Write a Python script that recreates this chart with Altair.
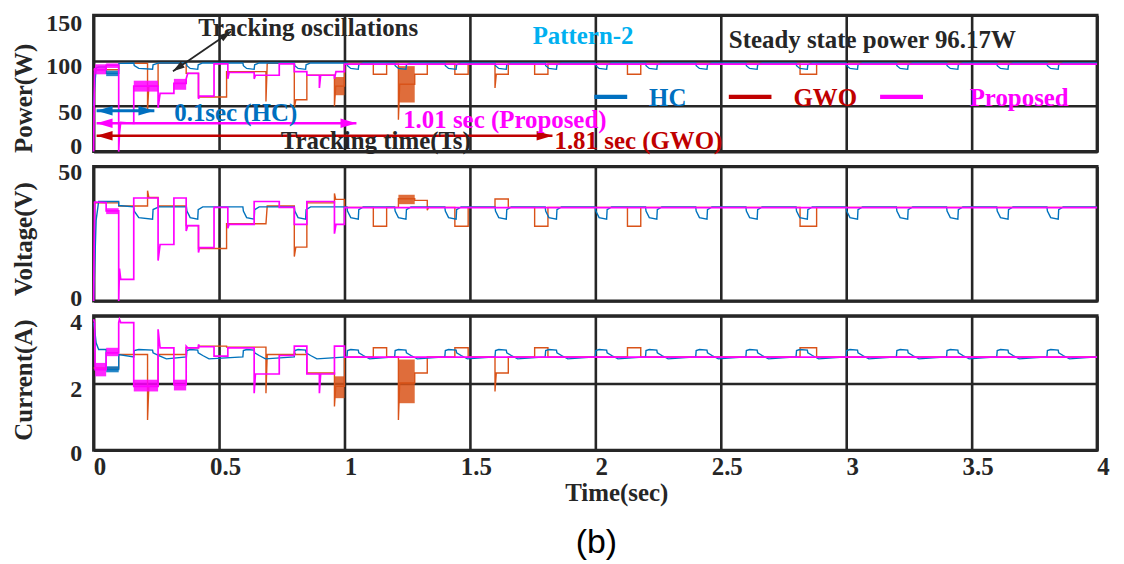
import altair as alt
import pandas as pd

# ---------------- data ----------------
HC_T = [0.000, 0.004, 0.010, 0.020, 0.050, 0.050, 0.100, 0.100,
        0.160, 0.162, 0.180, 0.235, 0.237, 0.260, 0.290,
        0.370, 0.372, 0.385, 0.415, 0.417, 0.435, 0.460,
        0.595, 0.597, 0.610, 0.640, 0.642, 0.660, 0.685,
        0.800, 0.802, 0.815, 0.845, 0.847, 0.865, 0.890,
        1.010, 1.012, 1.025, 1.055, 1.057, 1.075, 1.100,
        1.200, 1.202, 1.215, 1.245, 1.247, 1.265, 1.290,
        1.400, 1.402, 1.415, 1.445, 1.447, 1.465, 1.490,
        1.600, 1.602, 1.615, 1.645, 1.647, 1.665, 1.690,
        1.800, 1.802, 1.815, 1.845, 1.847, 1.865, 1.890,
        2.000, 2.002, 2.015, 2.045, 2.047, 2.065, 2.090,
        2.200, 2.202, 2.215, 2.245, 2.247, 2.265, 2.290,
        2.400, 2.402, 2.415, 2.445, 2.447, 2.465, 2.490,
        2.600, 2.602, 2.615, 2.645, 2.647, 2.665, 2.690,
        2.800, 2.802, 2.815, 2.845, 2.847, 2.865, 2.890,
        3.000, 3.002, 3.015, 3.045, 3.047, 3.065, 3.090,
        3.200, 3.202, 3.215, 3.245, 3.247, 3.265, 3.290,
        3.400, 3.402, 3.415, 3.445, 3.447, 3.465, 3.490,
        3.600, 3.602, 3.615, 3.645, 3.647, 3.665, 3.690,
        3.800, 3.802, 3.815, 3.845, 3.847, 3.865, 3.890,
        4.000]
HC_P = [50.0, 70.0, 92.0, 93.0, 93.0, 86.0, 86.0, 97.0,
        97.5, 94.5, 91.5, 90.5, 95.5, 97.5, 97.5,
        97.5, 94.5, 91.5, 90.5, 95.5, 97.5, 97.5,
        97.5, 94.5, 91.5, 90.5, 95.5, 97.5, 97.5,
        97.5, 94.5, 91.5, 90.5, 95.5, 97.5, 97.5,
        97.5, 94.5, 91.5, 90.5, 95.5, 97.5, 97.5,
        97.5, 94.5, 91.5, 90.5, 95.5, 97.5, 97.5,
        97.5, 94.5, 91.5, 90.5, 95.5, 97.5, 97.5,
        97.5, 94.5, 91.5, 90.5, 95.5, 97.5, 97.5,
        97.5, 94.5, 91.5, 90.5, 95.5, 97.5, 97.5,
        97.5, 94.5, 91.5, 90.5, 95.5, 97.5, 97.5,
        97.5, 94.5, 91.5, 90.5, 95.5, 97.5, 97.5,
        97.5, 94.5, 91.5, 90.5, 95.5, 97.5, 97.5,
        97.5, 94.5, 91.5, 90.5, 95.5, 97.5, 97.5,
        97.5, 94.5, 91.5, 90.5, 95.5, 97.5, 97.5,
        97.5, 94.5, 91.5, 90.5, 95.5, 97.5, 97.5,
        97.5, 94.5, 91.5, 90.5, 95.5, 97.5, 97.5,
        97.5, 94.5, 91.5, 90.5, 95.5, 97.5, 97.5,
        97.5, 94.5, 91.5, 90.5, 95.5, 97.5, 97.5,
        97.5, 94.5, 91.5, 90.5, 95.5, 97.5, 97.5,
        97.5]
HC_V = [0.0, 12.0, 30.0, 37.0, 37.0, 37.0, 37.0, 35.5,
        35.0, 33.4, 31.0, 30.4, 34.0, 35.0, 35.0,
        35.0, 33.4, 31.0, 30.4, 34.0, 35.0, 35.0,
        35.0, 33.4, 31.0, 30.4, 34.0, 35.0, 35.0,
        35.0, 33.4, 31.0, 30.4, 34.0, 35.0, 35.0,
        35.0, 33.4, 31.0, 30.4, 34.0, 35.0, 35.0,
        35.0, 33.4, 31.0, 30.4, 34.0, 35.0, 35.0,
        35.0, 33.4, 31.0, 30.4, 34.0, 35.0, 35.0,
        35.0, 33.4, 31.0, 30.4, 34.0, 35.0, 35.0,
        35.0, 33.4, 31.0, 30.4, 34.0, 35.0, 35.0,
        35.0, 33.4, 31.0, 30.4, 34.0, 35.0, 35.0,
        35.0, 33.4, 31.0, 30.4, 34.0, 35.0, 35.0,
        35.0, 33.4, 31.0, 30.4, 34.0, 35.0, 35.0,
        35.0, 33.4, 31.0, 30.4, 34.0, 35.0, 35.0,
        35.0, 33.4, 31.0, 30.4, 34.0, 35.0, 35.0,
        35.0, 33.4, 31.0, 30.4, 34.0, 35.0, 35.0,
        35.0, 33.4, 31.0, 30.4, 34.0, 35.0, 35.0,
        35.0, 33.4, 31.0, 30.4, 34.0, 35.0, 35.0,
        35.0, 33.4, 31.0, 30.4, 34.0, 35.0, 35.0,
        35.0, 33.4, 31.0, 30.4, 34.0, 35.0, 35.0,
        35.0]
HC_I = [3.80, 3.60, 3.20, 3.00, 3.00, 2.40, 2.40, 2.85,
        2.78, 2.97, 3.00, 2.98, 2.90, 2.82, 2.72,
        2.78, 2.97, 3.00, 2.98, 2.90, 2.82, 2.72,
        2.78, 2.97, 3.00, 2.98, 2.90, 2.82, 2.72,
        2.78, 2.97, 3.00, 2.98, 2.90, 2.82, 2.72,
        2.78, 2.97, 3.00, 2.98, 2.90, 2.82, 2.72,
        2.78, 2.97, 3.00, 2.98, 2.90, 2.82, 2.72,
        2.78, 2.97, 3.00, 2.98, 2.90, 2.82, 2.72,
        2.78, 2.97, 3.00, 2.98, 2.90, 2.82, 2.72,
        2.78, 2.97, 3.00, 2.98, 2.90, 2.82, 2.72,
        2.78, 2.97, 3.00, 2.98, 2.90, 2.82, 2.72,
        2.78, 2.97, 3.00, 2.98, 2.90, 2.82, 2.72,
        2.78, 2.97, 3.00, 2.98, 2.90, 2.82, 2.72,
        2.78, 2.97, 3.00, 2.98, 2.90, 2.82, 2.72,
        2.78, 2.97, 3.00, 2.98, 2.90, 2.82, 2.72,
        2.78, 2.97, 3.00, 2.98, 2.90, 2.82, 2.72,
        2.78, 2.97, 3.00, 2.98, 2.90, 2.82, 2.72,
        2.78, 2.97, 3.00, 2.98, 2.90, 2.82, 2.72,
        2.78, 2.97, 3.00, 2.98, 2.90, 2.82, 2.72,
        2.78, 2.97, 3.00, 2.98, 2.90, 2.82, 2.72,
        2.78]

GWO_T = [0.000, 0.100, 0.100, 0.215, 0.215, 0.220, 0.257, 0.257, 0.369, 0.369,
         0.418, 0.418, 0.530, 0.530, 0.687, 0.687, 0.692, 0.800, 0.800, 0.806,
         0.850, 0.850, 0.960, 0.960, 0.965, 1.000, 1.000, 1.115, 1.115, 1.168,
         1.168, 1.215, 1.215, 1.220, 1.280, 1.280, 1.330, 1.330, 1.335, 1.440,
         1.440, 1.493, 1.493, 1.600, 1.600, 1.605, 1.653, 1.653, 1.758, 1.758,
         1.811, 1.811, 2.128, 2.128, 2.181, 2.181, 2.816, 2.816, 2.882, 2.882,
         4.000]
GWO_P = [90, 90, 97, 97, 45, 72, 72, 97, 97, 86,
         86, 60, 60, 88, 88, 55, 97, 97, 48, 57,
         57, 84, 84, 50, 72, 72, 96.5, 96.5, 85, 85,
         96.5, 96.5, 35, 74, 74, 85, 85, 96.5, 96.5, 96.5,
         85, 85, 96.5, 96.5, 70, 85, 85, 96.5, 96.5, 85,
         85, 96.5, 96.5, 85, 85, 96.5, 96.5, 85, 85, 96.5,
         96.5]
GWO_V = [36.5, 36.5, 35.3, 35.3, 41.0, 38.5, 38.5, 35.3, 35.3, 28.0,
         28.0, 19.5, 19.5, 28.7, 28.7, 28.7, 35.3, 35.3, 16.5, 20.0,
         20.0, 36.5, 36.5, 40.0, 37.8, 37.8, 34.8, 34.8, 27.8, 27.8,
         34.8, 34.8, 38.0, 38.0, 38.0, 37.4, 37.4, 33.7, 34.8, 34.8,
         27.8, 27.8, 34.8, 34.8, 37.9, 37.9, 37.9, 34.8, 34.8, 27.8,
         27.8, 34.8, 34.8, 27.8, 27.8, 34.8, 34.8, 27.8, 27.8, 34.8,
         34.8]
GWO_I = [2.45, 2.45, 2.85, 2.85, 0.90, 1.90, 1.90, 2.85, 2.85, 3.05,
         3.05, 3.10, 3.10, 3.07, 3.07, 1.70, 2.85, 2.85, 2.90, 2.85,
         2.85, 2.30, 2.30, 1.30, 1.90, 1.90, 2.78, 2.78, 3.05, 3.05,
         2.78, 2.78, 0.90, 2.00, 2.00, 2.30, 2.30, 2.78, 2.78, 2.78,
         3.05, 3.05, 2.78, 2.78, 1.75, 2.30, 2.30, 2.78, 2.78, 3.05,
         3.05, 2.78, 2.78, 3.05, 3.05, 2.78, 2.78, 3.05, 3.05, 2.78,
         2.78]

PRO_T = [0.000, 0.004, 0.006, 0.050, 0.050, 0.100, 0.100, 0.103, 0.108, 0.160,
         0.160, 0.257, 0.257, 0.265, 0.320, 0.320, 0.369, 0.369, 0.375, 0.418,
         0.418, 0.422, 0.480, 0.480, 0.535, 0.535, 0.540, 0.640, 0.640, 0.645,
         0.740, 0.740, 0.800, 0.800, 0.850, 0.850, 0.900, 0.900, 0.905, 0.960,
         0.960, 0.966, 1.000, 1.000, 4.000]
PRO_P = [0, 92, 90, 90, 95, 95, 0, 20, 32, 31,
         72, 72, 48, 64, 64, 75, 75, 80, 86, 86,
         58, 61, 61, 96.4, 96.4, 80, 87, 87, 80, 84,
         84, 96.4, 96.4, 88, 88, 84, 84, 70, 84, 84,
         80, 88, 88, 96.2, 96.2]
PRO_V = [0, 36.8, 36.8, 36.6, 33.5, 33.5, 0, 12, 8, 8,
         38.3, 38.3, 15, 21, 21, 38.3, 38.3, 26, 28, 28,
         18, 19.8, 19.8, 34.8, 34.8, 27, 28.5, 28.5, 37, 37,
         37, 34.8, 34.8, 28.5, 28.5, 37, 37, 37, 37, 37,
         25, 28.5, 28.5, 34.7, 34.7]
PRO_I = [3.9, 3.8, 2.4, 2.4, 2.9, 2.9, 3.8, 3.9, 3.8, 3.8,
         1.9, 1.9, 3.6, 3.05, 3.05, 1.95, 1.95, 3.1, 3.05, 3.05,
         3.15, 3.08, 3.08, 2.8, 2.8, 3.05, 3.05, 3.05, 1.7, 2.27,
         2.27, 2.82, 2.82, 3.1, 3.1, 2.27, 2.27, 1.7, 2.27, 2.27,
         3.1, 3.1, 3.1, 2.77, 2.77]

# oscillation envelopes (dense ripple drawn as filled bands)
BAND_PANEL = ["P", "I", "P", "I", "V", "I", "P", "P", "I", "P", "I", "P", "I", "P", "V", "I"]
BAND_SERIES = ["HC", "HC", "Proposed", "Proposed", "Proposed", "Proposed", "Proposed", "Proposed",
               "Proposed", "Proposed", "Proposed", "GWO", "GWO", "GWO", "GWO", "GWO"]
BAND_T0 = [0.05, 0.05, 0.006, 0.006, 0.05, 0.05, 0.05, 0.16, 0.16, 0.32, 0.32, 0.96, 0.96, 1.215, 1.215, 1.215]
BAND_T1 = [0.10, 0.10, 0.05, 0.05, 0.10, 0.10, 0.10, 0.257, 0.257, 0.369, 0.369, 1.0, 1.0, 1.28, 1.28, 1.28]
BAND_LO = [83, 2.32, 85, 2.2, 32.3, 2.8, 92, 66, 1.75, 68, 1.78, 62, 1.55, 54, 36, 1.4]
BAND_HI = [89, 2.5, 96, 2.6, 34.5, 3.05, 97, 78, 2.1, 80, 2.1, 82, 2.2, 94, 39.5, 2.7]

X_TICKS = [0, 0.5, 1, 1.5, 2, 2.5, 3, 3.5, 4]

# annotation texts of the power panel
ANN_TEXT = ["Tracking oscillations", "Pattern-2", "Steady state power 96.17W", "HC", "GWO", "Proposed",
            "0.1sec (HC)", "1.01 sec (Proposed)", "Tracking time(Ts)", "1.81 sec (GWO)"]
ANN_T = [0.4167, 1.75, 2.532, 2.2143, 2.7897, 3.492, 0.3214, 1.234, 0.746, 1.837]
ANN_P = [127.0, 118.2, 113.9, 50.4, 50.4, 50.4, 33.9, 26.3, 2.7, 2.7]

# ---------------- styling ----------------
FONT = "Liberation Serif"
INK = "#262626"
C_HC, C_GWO, C_PRO = "#0072BD", "#D95319", "#FF00FF"
L_BLUE, L_RED, L_MAG, L_CYAN = "#0070C0", "#C00000", "#FF00FF", "#00B0F0"
ANN_COL = [INK, L_CYAN, INK, L_BLUE, L_RED, L_MAG, L_BLUE, L_MAG, INK, L_RED]

RULE_T = [0.3163, 0.0119, 0.0119, 0.0119, 1.996, 2.532, 3.135]
RULE_T2 = [0.5476, 0.2421, 1.0476, 1.829, 2.127, 2.702, 3.306]
RULE_P = [88.4, 44.9, 31.2, 17.5, 60.2, 60.2, 60.2]
RULE_P2 = [132.2, 44.9, 31.2, 17.5, 60.2, 60.2, 60.2]
RULE_COL = [INK, L_BLUE, L_MAG, L_RED, L_BLUE, L_RED, L_MAG]
RULE_W = [1.8, 3.0, 2.5, 2.5, 4.5, 4.5, 4.5]

HEAD_T = [0.3357, 0.5282, 0.0437, 0.2103, 0.0437, 1.0159, 0.0437, 1.7976]
HEAD_P = [92.1, 128.4, 44.9, 44.9, 31.2, 31.2, 17.5, 17.5]
HEAD_ANG = [235.5, 55.5, 270, 90, 270, 90, 270, 90]
HEAD_COL = [INK, INK, L_BLUE, L_BLUE, L_MAG, L_MAG, L_RED, L_RED]
HEAD_SIZE = [144, 144, 256, 256, 256, 256, 256, 256]
ARROW_PATH = "M0,-1L0.6,1L-0.6,1Z"

SERIES = {
    "GWO": (GWO_T, {"P": GWO_P, "V": GWO_V, "I": GWO_I}, C_GWO, 1.4),
    "HC": (HC_T, {"P": HC_P, "V": HC_V, "I": HC_I}, C_HC, 1.4),
    "Proposed": (PRO_T, {"P": PRO_P, "V": PRO_V, "I": PRO_I}, C_PRO, 1.7),
}

bands = pd.DataFrame({"panel": BAND_PANEL, "s": BAND_SERIES, "t": BAND_T0, "t2": BAND_T1,
                      "v": BAND_LO, "v2": BAND_HI})


def offsets(top_val, top_off, zero_off, mid_off):
    return {"condition": [{"test": f"datum.value === {top_val}", "value": top_off},
                          {"test": "datum.value === 0", "value": zero_off}],
            "value": mid_off}


def make_panel(key, ymax, yvals, ytitle, height, title_y, last, label_offset):
    xkw = dict(values=X_TICKS, grid=True, gridColor=INK, gridWidth=2.6, ticks=False, domain=False,
               labels=last, labelFont=FONT, labelFontSize=25, labelFontWeight="bold", labelColor=INK,
               labelPadding=4, labelOffset=6, format="~g", labelFlush=False)
    if last:
        xkw.update(title="Time(sec)", titleFont=FONT, titleFontSize=25, titleFontWeight="bold",
                   titleColor=INK, titleX=525, titleY=50, titleBaseline="alphabetic", titleAlign="center")
    else:
        xkw.update(title=None)
    X = alt.X("t:Q", scale=alt.Scale(domain=[0, 4], nice=False, zero=False), axis=alt.Axis(**xkw))
    Y = alt.Y("v:Q", scale=alt.Scale(domain=[0, ymax], nice=False),
              axis=alt.Axis(values=yvals, grid=True, gridColor=INK, gridWidth=2.6, ticks=False,
                            domain=False, labelFont=FONT, labelFontSize=24, labelFontWeight="bold",
                            labelColor=INK, labelPadding=12, labelBaseline="middle",
                            labelOffset=label_offset,
                            title=ytitle, titleFont=FONT, titleFontSize=25, titleFontWeight="bold",
                            titleColor=INK, titleAngle=270, titleX=-70, titleY=title_y,
                            titleAlign="center", titleBaseline="middle"))
    layers = []
    for name in ["GWO", "HC", "Proposed"]:
        ts, vals, col, w = SERIES[name]
        b = bands[(bands.panel == key) & (bands.s == name)]
        if len(b):
            layers.append(alt.Chart(b).mark_rect(color=col, opacity=0.85).encode(
                x=X, x2="t2:Q", y=Y, y2="v2:Q"))
        df = pd.DataFrame({"t": ts, "v": vals[key], "i": list(range(len(ts)))})
        layers.append(alt.Chart(df).mark_line(color=col, strokeWidth=w).encode(
            x=X, y=Y, order="i:Q"))

    if key == "P":
        rules = pd.DataFrame({"t": RULE_T, "t2": RULE_T2, "v": RULE_P, "v2": RULE_P2,
                              "col": RULE_COL, "w": RULE_W})
        layers.append(alt.Chart(rules).mark_rule().encode(
            x=X, x2="t2:Q", y=Y, y2="v2:Q",
            color=alt.Color("col:N", scale=None),
            strokeWidth=alt.StrokeWidth("w:Q", scale=None)))
        heads = pd.DataFrame({"t": HEAD_T, "v": HEAD_P, "ang": HEAD_ANG, "col": HEAD_COL, "sz": HEAD_SIZE})
        layers.append(alt.Chart(heads).mark_point(shape=ARROW_PATH, filled=True, opacity=1,
                                                  strokeWidth=0).encode(
            x=X, y=Y, angle=alt.Angle("ang:Q", scale=None),
            color=alt.Color("col:N", scale=None), size=alt.Size("sz:Q", scale=None)))
        ann = pd.DataFrame({"t": ANN_T, "v": ANN_P, "txt": ANN_TEXT, "col": ANN_COL})
        layers.append(alt.Chart(ann).mark_text(align="left", baseline="alphabetic", font=FONT,
                                               fontSize=25, fontWeight="bold").encode(
            x=X, y=Y, text="txt:N", color=alt.Color("col:N", scale=None)))
    if key == "I":
        cap = pd.DataFrame({"t": [2.004], "v": [-3.05], "txt": ["(b)"]})
        layers.append(alt.Chart(cap).mark_text(align="center", baseline="alphabetic",
                                               font="Liberation Sans", fontSize=34,
                                               color="black").encode(
            x=X, y=Y, text="txt:N"))
    return alt.layer(*layers).properties(width=1008, height=height)


p1 = make_panel("P", 150, [0, 50, 100, 150], "Power(W)", 137, 83, False, offsets(150, 8, -5, 6))
p2 = make_panel("V", 50, [0, 50], "Voltage(V)", 135, 72.5, False, offsets(50, 6, -2, 5))
p3 = make_panel("I", 4, [0, 2, 4], "Current(A)", 135, 64, True, offsets(4, 7, 3, 7))

chart = (alt.vconcat(p1, p2, p3, spacing=15, bounds="flush")
         .properties(padding={"left": 2, "top": 0, "right": 5, "bottom": 0}, background="white")
         .configure_view(stroke=INK, strokeWidth=3))

chart.save("out.html", embed_options={"renderer": "svg", "actions": False})
